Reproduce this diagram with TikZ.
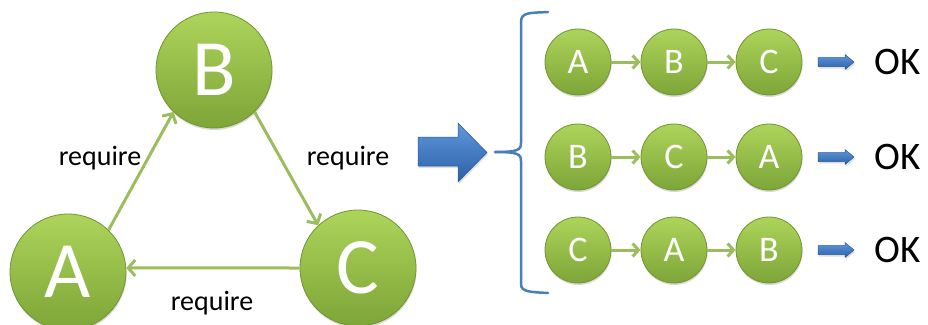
\documentclass[tikz,border=0pt]{standalone}
\usepackage{fontspec}
\setmainfont{Carlito}
\usetikzlibrary{arrows.meta,shadows}

\definecolor{ctop}{HTML}{ADD45A}
\definecolor{cbot}{HTML}{7DA538}
\definecolor{cedge}{HTML}{71952F}
\definecolor{linkgreen}{HTML}{9CBD5E}
\definecolor{btop}{HTML}{5E98DC}
\definecolor{bbot}{HTML}{2C60A6}
\definecolor{bedge}{HTML}{2B5896}
\definecolor{braceblue}{HTML}{4A7EBB}

\tikzset{
  ball/.style={circle, inner sep=0pt, top color=ctop, bottom color=cbot,
    draw=cedge, line width=0.8pt, text=white,
    drop shadow={shadow xshift=0.5pt, shadow yshift=-2pt, opacity=0.3}},
  bigball/.style={ball, minimum size=116pt, font=\fontsize{80}{80}\selectfont},
  smallball/.style={ball, minimum size=66pt, font=\fontsize{36}{36}\selectfont},
  biglink/.style={draw=linkgreen, line width=3pt,
    -{Straight Barb[length=7pt,width=16pt]}},
  smalllink/.style={draw=linkgreen, line width=3pt,
    -{Straight Barb[length=6pt,width=13pt]}},
  reqlabel/.style={font=\fontsize{28}{28}\selectfont, text=black},
  oklabel/.style={font=\fontsize{39}{39}\selectfont, text=black},
  bluearrow/.style={top color=btop, bottom color=bbot, draw=bedge, line width=0.5pt,
    drop shadow={shadow xshift=1pt, shadow yshift=-2pt, opacity=0.25}},
}

\begin{document}
\begin{tikzpicture}[x=1pt, y=-1pt]
  \useasboundingbox (0,0) rectangle (928,324);
  \clip (0,0) rectangle (928,324);

  % dependency cycle
  \node[bigball] (A) at (68,272) {A};
  \node[bigball] (B) at (214,70) {B};
  \node[bigball] (C) at (358,268) {C};

  \draw[biglink] (A.46) -- (B.226);
  \draw[biglink] (B.314) -- (C.133);
  \draw[biglink] (C.180) -- (A.4);

  \node[reqlabel] (lab) at (100,158) {require};
  \node[reqlabel] (lbc) at (348,158) {require};
  \node[reqlabel] (lca) at (212,303) {require};

  % big arrow
  \path[bluearrow] (418,137) -- (458,137) -- (458,123) -- (487,152.5)
    -- (458,182) -- (458,166) -- (418,166) -- cycle;

  % brace
  \coordinate (tip) at (495,152);
  \draw[braceblue, line width=2.5pt, line cap=round]
    (548,12) .. controls (530,13) and (521,12) .. (521,22)
    -- (521,143) .. controls (521,150) and (518,152) .. (tip);
  \draw[braceblue, line width=2.5pt, line cap=round]
    (tip) .. controls (518,152) and (521,154) .. (521,161)
    -- (521,284) .. controls (521,292) and (530,292) .. (548,293);

  % orderings
  \node[smallball] (r1a) at (578,62) {A};
  \node[smallball] (r1b) at (674,62) {B};
  \node[smallball] (r1c) at (769,62) {C};
  \node[smallball] (r2a) at (578,157) {B};
  \node[smallball] (r2b) at (674,157) {C};
  \node[smallball] (r2c) at (769,157) {A};
  \node[smallball] (r3a) at (578,250) {C};
  \node[smallball] (r3b) at (674,250) {A};
  \node[smallball] (r3c) at (769,250) {B};

  \draw[smalllink] (r1a) -- (r1b);
  \draw[smalllink] (r1b) -- (r1c);
  \draw[smalllink] (r2a) -- (r2b);
  \draw[smalllink] (r2b) -- (r2c);
  \draw[smalllink] (r3a) -- (r3b);
  \draw[smalllink] (r3b) -- (r3c);

  % results
  \foreach \y/\n in {62/1, 157/2, 250/3} {
    \path[bluearrow] (818,\y-4.5) -- (845,\y-4.5) -- (845,\y-7.5) -- (854,\y)
      -- (845,\y+7.5) -- (845,\y+4.5) -- (818,\y+4.5) -- cycle;
    \node[oklabel] (ok\n) at (898,\y) {OK};
  }
\end{tikzpicture}
\end{document}
